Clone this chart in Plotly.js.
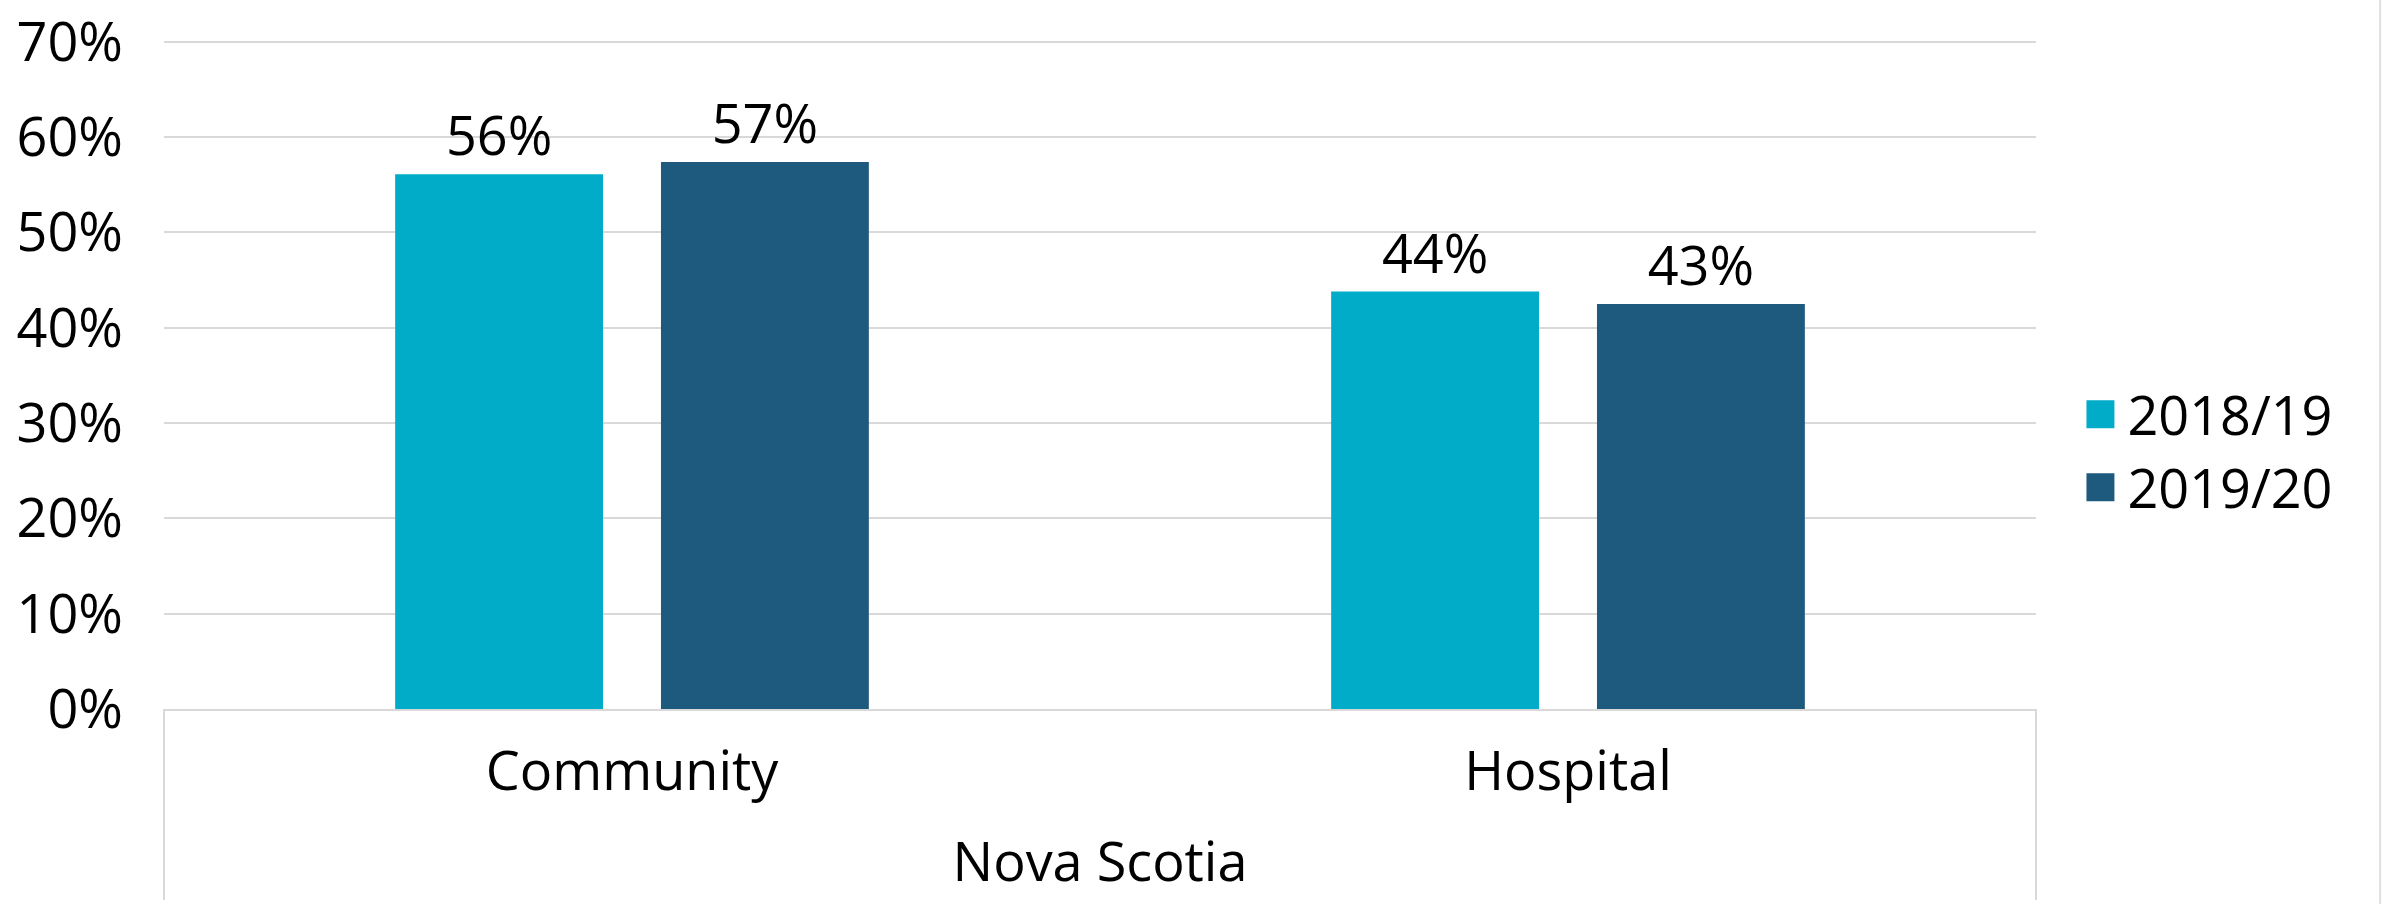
<!DOCTYPE html>
<html>
<head>
<meta charset="utf-8">
<script src="https://cdn.plot.ly/plotly-3.0.1.min.js"></script>
<style>
  html, body { margin: 0; padding: 0; background: #fff; }
  #chart { width: 2386px; height: 904px; }
  .legend .legendpoints path { transform: translate(27px, 0px) scale(2.33) !important; }
</style>
</head>
<body>
<div id="chart"></div>
<script>
const region = "Nova Scotia";
const categories = ["Community", "Hospital"];
const seriesNames = ["2018/19", "2019/20"];
const values2018 = [56.1, 43.8];
const values2019 = [57.4, 42.5];
const seriesColors = ["#00ACC8", "#1D5A7E"];
const yTickValues = [0, 10, 20, 30, 40, 50, 60, 70];
const yTickLabels = ["0%", "10%", "20%", "30%", "40%", "50%", "60%", "70%"];

const font = "Open Sans, Noto Sans, sans-serif";

const traces = [values2018, values2019].map((vals, i) => ({
  type: "bar",
  name: seriesNames[i],
  x: categories,
  y: vals,
  marker: { color: seriesColors[i], line: { width: 0 } },
  texttemplate: "%{y:.0f}%",
  textposition: "outside",
  textfont: { family: font, size: 54, color: "#000" },
  cliponaxis: false,
  hoverinfo: "skip"
}));

const gridGrey = "#D9D9D9";
const layout = {
  width: 2386,
  height: 904,
  margin: { l: 164, r: 350, t: 39, b: 195, pad: 0 },
  paper_bgcolor: "#fff",
  plot_bgcolor: "#fff",
  font: { family: font, size: 54, color: "#000" },
  barmode: "group",
  bargap: 0.432,
  bargroupgap: 0.218,
  showlegend: true,
  legend: {
    x: 1.02, xanchor: "left",
    y: 0.385, yanchor: "middle",
    font: { family: font, size: 54, color: "#000" },
    itemwidth: 44,
    bgcolor: "rgba(0,0,0,0)",
    borderwidth: 0
  },
  xaxis: {
    type: "category",
    showline: true,
    linecolor: gridGrey,
    linewidth: 2,
    showgrid: false,
    zeroline: false,
    ticks: "",
    ticklabelstandoff: 14,
    tickfont: { family: font, size: 54, color: "#000" },
    title: { text: region, font: { family: font, size: 54, color: "#000" }, standoff: 38 },
    automargin: false
  },
  yaxis: {
    range: [0, 70.3],
    tickvals: yTickValues,
    ticktext: yTickLabels,
    showgrid: true,
    gridcolor: gridGrey,
    gridwidth: 2,
    zeroline: false,
    showline: false,
    ticks: "",
    ticklabelstandoff: 40,
    ticklabeloverflow: "allow",
    tickfont: { family: font, size: 54, color: "#000" },
    automargin: false
  },
  shapes: [
    { type: "line", xref: "paper", yref: "paper", x0: 0, x1: 0, y0: 0, y1: -0.285,
      line: { color: gridGrey, width: 2 } },
    { type: "line", xref: "paper", yref: "paper", x0: 1, x1: 1, y0: 0, y1: -0.285,
      line: { color: gridGrey, width: 2 } },
    { type: "line", xref: "paper", yref: "paper", x0: 1.1838, x1: 1.1838, y0: -0.3, y1: 1.07,
      line: { color: "#E0E0E0", width: 2 } }
  ]
};

Plotly.newPlot("chart", traces, layout, { displayModeBar: false, staticPlot: true });
</script>
</body>
</html>
